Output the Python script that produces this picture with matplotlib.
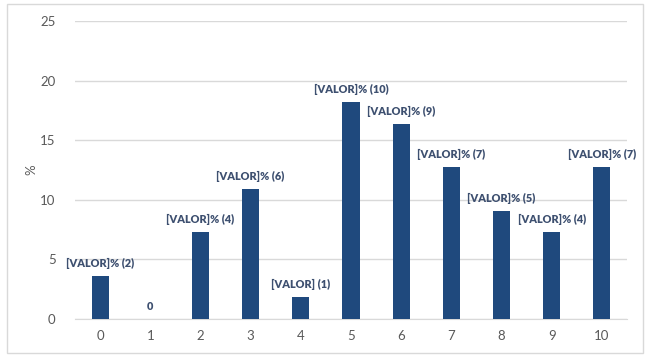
import matplotlib
matplotlib.use("Agg")
from matplotlib import pyplot as plt
from matplotlib.patches import Rectangle

# categories and values (percent of respondents)
categories = ['0', '1', '2', '3', '4', '5', '6', '7', '8', '9', '10']
percents = [3.64, 0, 7.27, 10.91, 1.82, 18.18, 16.36, 12.73, 9.09, 7.27, 12.73]
labels = ['[VALOR]% (2)', '0', '[VALOR]% (4)', '[VALOR]% (6)', '[VALOR] (1)',
          '[VALOR]% (10)', '[VALOR]% (9)', '[VALOR]% (7)', '[VALOR]% (5)',
          '[VALOR]% (4)', '[VALOR]% (7)']

plt.rcParams['font.family'] = ['Lato', 'DejaVu Sans']

fig = plt.figure(figsize=(6.53, 3.57), dpi=100)
ax = fig.add_axes([75/653, 38/357, 552/653, 298/357])

# outer chart border
fig.patches.append(Rectangle((7/653, 4/357), 636/653, 349/357, transform=fig.transFigure,
                             fill=False, edgecolor='#d9d9d9', linewidth=1))

x = range(len(categories))
ax.bar(x, percents, width=0.34, color='#1f497d', zorder=3)

for xi, v, lab in zip(x, percents, labels):
    ax.annotate(lab, (xi, v), xytext=(0, 5), textcoords='offset points',
                ha='center', va='bottom', fontsize=7.8, fontweight='heavy',
                color='#3e5070')

ax.set_xlim(-0.5, len(categories) - 0.5)
ax.set_ylim(0, 25)
ax.set_yticks([0, 5, 10, 15, 20, 25])
ax.set_xticks(list(x))
ax.set_xticklabels(categories)
ax.grid(axis='y', color='#d9d9d9', linewidth=1, zorder=0)
for s in ['top', 'right', 'left']:
    ax.spines[s].set_visible(False)
ax.spines['bottom'].set_color('#d9d9d9')
ax.tick_params(axis='both', length=0, labelsize=9.5, colors='#595959', pad=8)
ax.tick_params(axis='y', pad=14)
ax.set_ylabel('%', fontsize=9.5, color='#595959')
ax.yaxis.set_label_coords(-38/552, 0.5)

fig.savefig('out.png', dpi=100)
